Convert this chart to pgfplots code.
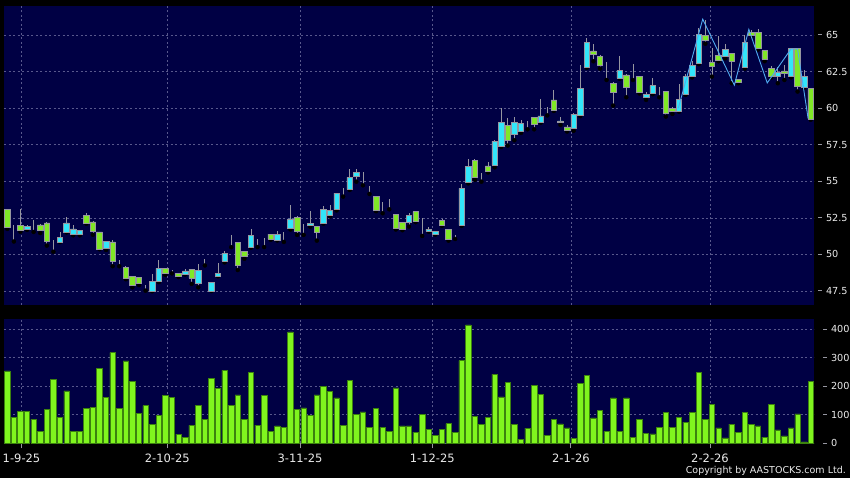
\documentclass[border=0pt]{standalone}
\usepackage{pgfplots}
\pgfplotsset{compat=1.18}
\usepackage{pgfplotstable}
\usepackage{fontspec}
\setmainfont{DejaVu Sans}
\definecolor{navy}{RGB}{0,0,68}
\definecolor{gridc}{RGB}{88,88,140}
\definecolor{upc}{RGB}{50,230,250}
\definecolor{dnc}{RGB}{128,232,38}
\definecolor{wickc}{RGB}{150,150,160}
\definecolor{volc}{RGB}{128,245,30}
\definecolor{voledge}{RGB}{60,130,15}
\definecolor{zz}{RGB}{80,170,240}
\definecolor{lbl}{RGB}{235,235,235}

\pgfplotstableread{
i o h l c
0 53.08 53.10 51.74 51.88
1 51.67 52.04 50.88 51.67
2 51.99 53.08 51.55 51.62
3 51.74 52.00 51.68 51.92
4 51.71 52.38 51.53 51.71
5 52.01 52.05 51.46 51.67
6 52.15 52.20 50.60 50.88
7 50.86 50.95 50.18 50.86
8 50.86 51.53 50.84 51.18
9 51.53 52.57 51.50 52.15
10 51.34 51.99 51.30 51.74
11 51.34 51.66 51.30 51.62
12 52.64 52.80 52.10 52.15
13 52.22 52.25 51.34 51.57
14 51.53 51.55 50.35 50.37
15 50.42 50.92 50.30 50.88
16 50.86 51.00 49.19 49.54
17 49.56 49.60 49.19 49.56
18 49.12 49.18 48.30 48.37
19 48.50 48.55 47.75 47.89
20 48.44 48.48 47.90 48.03
21 47.86 47.90 47.52 47.86
22 47.50 48.64 47.48 48.14
23 48.18 49.62 48.10 49.05
24 49.03 49.08 48.60 48.71
25 48.82 48.92 48.70 48.82
26 48.71 48.75 48.45 48.50
27 48.66 49.00 48.62 48.87
28 48.98 49.00 47.98 48.39
29 48.03 49.32 47.75 48.93
30 49.26 49.69 49.24 49.26
31 47.50 48.10 47.50 48.07
32 48.52 49.39 48.50 48.71
33 49.55 50.20 49.45 50.08
34 50.78 51.33 50.49 50.78
35 50.80 50.85 48.93 49.26
36 50.19 50.25 49.70 49.87
37 50.51 51.72 50.45 51.31
38 50.94 51.05 50.50 50.94
39 50.83 51.10 50.50 50.83
40 51.38 51.42 51.00 51.05
41 50.99 51.62 50.95 51.36
42 51.17 51.55 50.85 51.17
43 51.76 53.38 51.70 52.42
44 52.54 52.65 51.33 51.58
45 51.83 52.08 51.33 51.83
46 51.97 52.97 51.90 52.13
47 51.92 51.95 50.94 51.51
48 52.13 53.31 52.10 53.06
49 52.67 53.38 52.60 53.02
50 53.06 54.22 53.00 54.18
51 54.40 54.56 53.95 54.40
52 54.45 55.82 54.40 55.27
53 55.32 55.82 54.97 55.61
54 55.00 55.66 54.72 55.00
55 54.45 54.70 54.13 54.45
56 53.97 54.00 52.95 52.99
57 53.08 53.58 52.81 53.08
58 53.27 53.77 53.08 53.27
59 52.74 52.78 51.70 51.76
60 52.17 52.20 51.65 51.72
61 52.17 52.82 51.90 52.65
62 52.92 52.95 52.20 52.26
63 51.97 52.47 51.26 51.97
64 51.58 51.90 51.55 51.72
65 51.37 51.60 51.35 51.58
66 52.33 52.45 51.95 51.99
67 51.72 51.75 50.94 51.03
68 51.28 51.30 51.05 51.28
69 51.99 54.79 51.95 54.52
70 54.93 56.50 54.85 56.00
71 56.45 56.50 55.10 55.25
72 55.29 55.54 54.97 55.29
73 56.05 56.30 55.60 55.68
74 56.11 57.80 55.95 57.73
75 57.41 59.99 57.35 59.03
76 58.82 59.30 57.44 57.78
77 58.23 59.37 57.80 59.03
78 58.42 59.20 58.30 58.96
79 59.01 59.15 58.55 59.01
80 59.37 59.40 58.55 58.92
81 59.03 60.60 59.00 59.46
82 59.85 60.10 59.50 59.85
83 60.56 61.24 59.80 59.85
84 59.05 59.40 58.85 59.12
85 58.71 58.85 58.40 58.46
86 58.62 59.65 58.45 59.58
87 59.51 62.95 59.45 61.35
88 62.79 64.77 62.75 64.50
89 63.91 64.36 63.20 63.68
90 63.56 63.60 62.70 62.90
91 62.49 63.18 61.92 62.49
92 61.70 61.75 60.17 61.08
93 62.04 63.56 62.00 62.58
94 62.27 62.30 60.74 61.42
95 62.24 62.99 61.92 62.24
96 62.15 62.20 61.00 61.08
97 60.74 61.13 60.56 60.94
98 61.01 62.04 60.95 61.54
99 61.08 61.42 60.74 61.08
100 61.15 61.20 59.42 59.64
101 59.99 60.05 59.60 59.76
102 59.81 61.63 59.75 60.60
103 60.94 62.30 60.90 62.15
104 62.20 63.20 62.10 62.93
105 63.06 65.50 63.00 65.05
106 64.98 66.00 64.40 64.66
107 63.13 64.10 62.15 62.86
108 63.61 64.90 63.20 63.29
109 63.52 64.40 63.40 64.02
110 63.75 63.80 61.70 63.20
111 61.97 62.00 61.70 61.79
112 62.79 65.00 62.70 64.50
113 65.18 65.35 64.95 65.00
114 65.18 65.40 64.00 64.09
115 63.93 64.00 63.20 63.34
116 62.74 62.90 62.10 62.20
117 62.20 62.84 61.70 62.45
118 62.54 62.95 61.92 62.38
119 62.20 64.10 62.10 64.07
120 64.07 64.10 61.13 61.47
121 61.45 62.61 61.40 62.18
122 61.33 61.35 59.20 59.26
}\candles

\pgfplotstableread{
i v
0 254
1 90
2 112
3 112
4 84
5 42
6 119
7 225
8 92
9 184
10 43
11 41
12 122
13 126
14 264
15 161
16 318
17 122
18 289
19 216
20 106
21 132
22 67
23 98
24 168
25 161
26 32
27 22
28 63
29 132
30 84
31 228
32 193
33 256
34 132
35 170
36 85
37 250
38 64
39 167
40 41
41 61
42 57
43 391
44 120
45 124
46 99
47 170
48 200
49 181
50 159
51 62
52 221
53 102
54 110
55 57
56 123
57 56
58 42
59 194
60 61
61 61
62 39
63 102
64 49
65 29
66 50
67 69
68 39
69 290
70 415
71 94
72 65
73 90
74 242
75 163
76 215
77 67
78 14
79 53
80 204
81 172
82 28
83 85
84 68
85 54
86 18
87 211
88 237
89 89
90 116
91 42
92 159
93 42
94 159
95 21
96 85
97 35
98 33
99 57
100 108
101 56
102 91
103 74
104 108
105 249
106 85
107 137
108 54
109 19
110 67
111 39
112 109
113 67
114 61
115 22
116 136
117 47
118 26
119 54
120 103
121 5
122 216
}\vol

\pgfplotsset{
  base/.style={
    scale only axis, anchor=south west,
    xmin=-0.5, xmax=122.5,
    axis line style={draw=none},
    /pgf/number format/assume math mode=true,
  },
  topax/.style={base, at={(4pt,173pt)}, width=810pt, height=299pt,
    ymin=46.54, ymax=66.98},
  volax/.style={base, at={(4pt,34.7pt)}, width=810pt, height=124.3pt,
    ymin=0, ymax=436},
}
\newcommand{\ylab}[1]{\textcolor{wickc}{\rule[3.3pt]{4pt}{0.8pt}}\hspace{3.8pt}\pgfmathprintnumber{#1}}

\begin{document}
\begin{tikzpicture}
\fill[black] (0,0) rectangle (850pt,478pt);

% price panel: background, grid, wicks
\begin{axis}[topax,
  axis background/.style={fill=navy},
  xtick={2.16,24.30,44.45,64.54,85.58,106.71}, xticklabels={},
  ytick={47.5,50,52.5,55,57.5,60,62.5,65},
  xmajorgrids, ymajorgrids,
  major grid style={gridc, dash pattern=on 2pt off 2.5pt, line width=0.6pt},
  major tick length=0pt,
  ytick pos=right, yticklabel pos=right,
  yticklabel={\ylab{\tick}},
  yticklabel style={anchor=west, inner sep=0pt, xshift=4pt, text=lbl,
    font=\fontsize{9.7}{11}\selectfont},
]
\addplot[only marks, mark=none,
  error bars/.cd, y dir=plus, y explicit, error mark=none,
  error bar style={wickc, line width=0.8pt}]
  table[x=i, y=l, y error expr=\thisrow{h}-\thisrow{l}] {\candles};
\end{axis}

% candle bodies
\begin{axis}[topax, hide axis, ybar stacked, bar width=0.84]
\addplot[draw=none, fill=none] table[x=i, y expr={min(\thisrow{o},\thisrow{c})}] {\candles};
\addplot[draw=wickc, fill=upc, line width=0.6pt] table[x=i, y expr={max(\thisrow{c}-\thisrow{o},0)}] {\candles};
\addplot[draw=wickc, fill=dnc, line width=0.6pt] table[x=i, y expr={max(\thisrow{o}-\thisrow{c},0)}] {\candles};
\end{axis}

% zigzag line
\begin{axis}[topax, hide axis]
\addplot[zz, line width=0.9pt] coordinates {
(101.9,60.0) (105.6,66.08) (110.4,61.57) (112.6,65.38) (115.4,61.72)
(119.0,64.04) (120.0,64.04) (121.6,59.3)};
\end{axis}

% volume panel
\begin{axis}[volax,
  axis background/.style={fill=navy},
  ybar, bar width=0.82,
  xtick={2.16,24.30,44.45,64.54,85.58,106.71},
  xticklabels={1-9-25,2-10-25,3-11-25,1-12-25,2-1-26,2-2-26},
  ytick={0,100,200,300,400},
  xmajorgrids, ymajorgrids,
  major grid style={gridc, dash pattern=on 2pt off 2.5pt, line width=0.6pt},
  ytick pos=right, yticklabel pos=right, xtick pos=bottom,
  tick align=outside,
  y tick style={draw=none},
  x tick style={wickc, line width=0.8pt},
  major tick length=5pt,
  yticklabel={\ylab{\tick}},
  yticklabel style={anchor=west, inner sep=0pt, xshift=4pt, text=lbl,
    font=\fontsize{9.7}{11}\selectfont},
  xticklabel style={anchor=north, inner sep=0pt, yshift=-5pt, text=lbl,
    font=\fontsize{11.5}{13}\selectfont},
]
\addplot[fill=volc, draw=voledge, line width=0.6pt] table[x=i, y=v] {\vol};
\end{axis}

\node[anchor=base east, inner sep=0pt, text=lbl, font=\fontsize{9.5}{11}\selectfont]
  at (846pt,4pt) {Copyright by AASTOCKS.com Ltd.};

\pgfresetboundingbox
\useasboundingbox (0,0) rectangle (850pt,478pt);
\end{tikzpicture}
\end{document}
